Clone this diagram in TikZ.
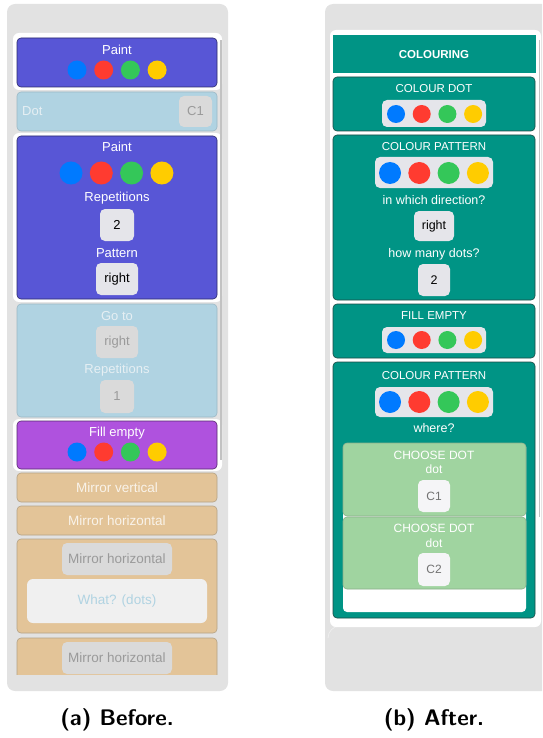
\documentclass[tikz,border=0pt]{standalone}
\usepackage{fontspec}
\setmainfont{Liberation Sans}
\definecolor{panelgray}{HTML}{E2E2E2}
\definecolor{indigo}{HTML}{5856D6}
\definecolor{lblue}{HTML}{B0D3E2}
\definecolor{lblueedge}{HTML}{9CB8C5}
\definecolor{violet}{HTML}{AF52DE}
\definecolor{tan}{HTML}{E3C498}
\definecolor{tanedge}{HTML}{B4A286}
\definecolor{teal}{HTML}{009485}
\definecolor{tealedge}{HTML}{1E4A44}
\definecolor{lgreen}{HTML}{A0D4A0}
\definecolor{lgreenedge}{HTML}{8AAF8A}
\definecolor{dblue}{HTML}{007AFF}
\definecolor{dred}{HTML}{FF3B30}
\definecolor{dgreen}{HTML}{34C759}
\definecolor{dyellow}{HTML}{FFCC00}
\definecolor{btngray}{HTML}{E5E5EA}
\definecolor{btndis}{HTML}{DADADA}
\definecolor{distext}{HTML}{9A9A9A}
\definecolor{faint}{HTML}{E6EFF3}
\definecolor{scroll}{HTML}{C2C2C2}
\tikzset{
  blk/.style={rectangle, rounded corners=4pt, line width=0.6pt, inner sep=0pt},
  lbl/.style={inner sep=0pt, text=white, font=\fontsize{13}{15}\selectfont},
  tlbl/.style={inner sep=0pt, text=white, font=\fontsize{11.5}{13}\selectfont},
  btn/.style={rectangle, rounded corners=5pt, fill=btngray, text=black, inner sep=0pt, font=\fontsize{13}{15}\selectfont},
  dbtn/.style={btn, fill=btndis, text=distext},
  dotc/.style={circle, inner sep=0pt},
  hl/.style={fill=white, rounded corners=6pt},
  capt/.style={inner sep=0pt, font=\fontsize{22.5}{26}\selectfont\sffamily\bfseries}
}
\newcommand\fourdots[5]{%
  \foreach \cc [count=\ii] in {dblue,dred,dgreen,dyellow}
    \node[dotc, fill=\cc, minimum size=#4] (#1\ii) at ({#2+(\ii-1)*#3}, #5) {};}
\begin{document}
\begin{tikzpicture}[x=1pt,y=-1pt]
\useasboundingbox (0,0) rectangle (542,738);
\clip (0,0) rectangle (542,738);
% ---------------- left panel ----------------
\fill[panelgray, rounded corners=8pt] (7,4) rectangle (228,691);
\fill[hl] (13,33) rectangle (222,90);
\node[blk, fill=indigo, draw=indigo!50!black, minimum width=200, minimum height=49] (paint1) at (117,62.5) {};
\node[lbl] (paint1t) at (117,50) {Paint};
\fourdots{pa}{77}{26.7}{19}{70}
\node[blk, fill=lblue, draw=lblueedge, minimum width=200, minimum height=39] (dotblk) at (117,111.5) {};
\node[lbl, text=faint, anchor=west] (dott) at (22,111.5) {Dot};
\node[dbtn, minimum width=33, minimum height=31] (c1l) at (195.5,111.5) {C1};
\fill[hl] (13,133) rectangle (222,302);
\node[blk, fill=indigo, draw=indigo!50!black, minimum width=200, minimum height=163] (paint2) at (117,217.5) {};
\node[lbl] (paint2t) at (117,147) {Paint};
\fourdots{pb}{71}{30.3}{23}{173}
\node[lbl] (rep1) at (117,198) {Repetitions};
\node[btn, minimum width=34, minimum height=32] (two1) at (117,225) {2};
\node[lbl] (pat) at (117,253) {Pattern};
\node[btn, minimum width=42, minimum height=32] (right1) at (117,279) {right};
\node[blk, fill=lblue, draw=lblueedge, minimum width=200, minimum height=113] (goto) at (117,360.5) {};
\node[lbl, text=faint] (gotot) at (117,316) {Go to};
\node[dbtn, minimum width=42, minimum height=32] (right2) at (117,342) {right};
\node[lbl, text=faint] (rep2) at (117,370) {Repetitions};
\node[dbtn, minimum width=34, minimum height=33] (one) at (117,396.5) {1};
\fill[hl] (13,419) rectangle (222,471);
\node[blk, fill=violet, draw=violet!50!black, minimum width=200, minimum height=48] (fill1) at (117,445) {};
\node[lbl] (fill1t) at (117,433) {Fill empty};
\fourdots{pc}{77}{26.7}{19}{452}
\node[blk, fill=tan, draw=tanedge, minimum width=200, minimum height=29] (mv) at (117,487.5) {};
\node[lbl, text=white!80!tan, font=\fontsize{13.5}{15}\selectfont] (mvt) at (117,488) {Mirror vertical};
\node[blk, fill=tan, draw=tanedge, minimum width=200, minimum height=29] (mh) at (117,520.5) {};
\node[lbl, text=white!80!tan, font=\fontsize{13.5}{15}\selectfont] (mht) at (117,521) {Mirror horizontal};
\node[blk, fill=tan, draw=tanedge, minimum width=200, minimum height=94] (mblk) at (117,586) {};
\node[dbtn, minimum width=110, minimum height=32, font=\fontsize{13.5}{15}\selectfont] (mhb) at (117,559) {Mirror horizontal};
\node[btn, fill=white!50!panelgray, text=lblue, minimum width=180, minimum height=44, rounded corners=6pt, font=\fontsize{13.5}{15}\selectfont] (what) at (117,601) {What? (dots)};
\begin{scope}
\clip (0,0) rectangle (542,674);
\node[blk, fill=tan, draw=tanedge, minimum width=200, minimum height=60] (mlast) at (117,668) {};
\node[dbtn, minimum width=110, minimum height=32, font=\fontsize{13.5}{15}\selectfont] (mhb2) at (117,658) {Mirror horizontal};
\end{scope}
\draw[scroll, line width=2pt] (220.5,40) -- (220.5,460);
% ---------------- right panel ----------------
\fill[panelgray, rounded corners=8pt] (325,4) rectangle (570,691);
\draw[black!7, line width=0.8pt] (328,638) arc[start angle=180, end angle=270, radius=12];
\fill[white, rounded corners=6pt] (330,30) rectangle (541,627);
\node[rectangle, fill=teal, minimum width=203, minimum height=38, inner sep=0pt] (head) at (434.5,54) {};
\node[tlbl, font=\fontsize{11.5}{13}\selectfont\bfseries] (headt) at (434,55) {COLOURING};
% colour dot
\node[blk, fill=teal, draw=tealedge, minimum width=202, minimum height=54] (cdot) at (434,104) {};
\node[tlbl] (cdott) at (434,89) {COLOUR DOT};
\node[btn, minimum width=104, minimum height=27] (cdotbox) at (434,113.5) {};
\fourdots{ra}{396}{25.7}{18}{114}
% colour pattern
\node[blk, fill=teal, draw=tealedge, minimum width=202, minimum height=165] (cpat) at (434,217.5) {};
\node[tlbl] (cpatt) at (434,147) {COLOUR PATTERN};
\node[btn, minimum width=118, minimum height=31] (cpatbox) at (434,172.5) {};
\fourdots{rb}{390}{29.3}{22}{173}
\node[lbl, font=\fontsize{12.5}{14}\selectfont] (dirq) at (434,200) {in which direction?};
\node[btn, minimum width=40, minimum height=30, font=\fontsize{12.5}{14}\selectfont] (right3) at (434,226) {right};
\node[lbl, font=\fontsize{12.5}{14}\selectfont] (howq) at (434,254) {how many dots?};
\node[btn, minimum width=32, minimum height=32, font=\fontsize{12.5}{14}\selectfont] (two2) at (434,280) {2};
% fill empty
\node[blk, fill=teal, draw=tealedge, minimum width=202, minimum height=54] (fille) at (434,331) {};
\node[tlbl] (fillet) at (434,316) {FILL EMPTY};
\node[btn, minimum width=104, minimum height=26] (fillebox) at (434,340) {};
\fourdots{rc}{396}{25.7}{18}{340}
% colour pattern 2
\node[blk, fill=teal, draw=tealedge, minimum width=202, minimum height=256] (cpat2) at (434,490) {};
\node[tlbl] (cpat2t) at (434,376) {COLOUR PATTERN};
\node[btn, minimum width=118, minimum height=30] (cpat2box) at (434,402) {};
\fourdots{rd}{390}{29.3}{22}{402}
\node[lbl, font=\fontsize{12.5}{14}\selectfont] (whereq) at (434,428) {where?};
\node[rectangle, rounded corners=4pt, fill=white, minimum width=183, minimum height=169, inner sep=0pt] (slot) at (434.5,527.5) {};
\node[blk, fill=lgreen, draw=lgreenedge, minimum width=183, minimum height=73] (cd1) at (434.5,479.5) {};
\node[tlbl, font=\fontsize{12}{14}\selectfont] (cd1t) at (434,455) {CHOOSE DOT};
\node[tlbl, font=\fontsize{12}{14}\selectfont] (cd1d) at (434,469) {dot};
\node[btn, fill=white!60!btngray, text=black!55, minimum width=32, minimum height=32, font=\fontsize{12}{14}\selectfont] (c1r) at (434,496) {C1};
\node[blk, fill=lgreen, draw=lgreenedge, minimum width=183, minimum height=72] (cd2) at (434.5,553) {};
\node[tlbl, font=\fontsize{12}{14}\selectfont] (cd2t) at (434,528) {CHOOSE DOT};
\node[tlbl, font=\fontsize{12}{14}\selectfont] (cd2d) at (434,543) {dot};
\node[btn, fill=white!60!btngray, text=black!55, minimum width=32, minimum height=33, font=\fontsize{12}{14}\selectfont] (c2r) at (434,569.5) {C2};
\draw[scroll, line width=1.5pt] (539.5,40) -- (539.5,517);
% ---------------- captions ----------------
\node[capt] (capa) at (117,720) {(a) Before.};
\node[capt] (capb) at (434,720) {(b) After.};
\end{tikzpicture}
\end{document}
